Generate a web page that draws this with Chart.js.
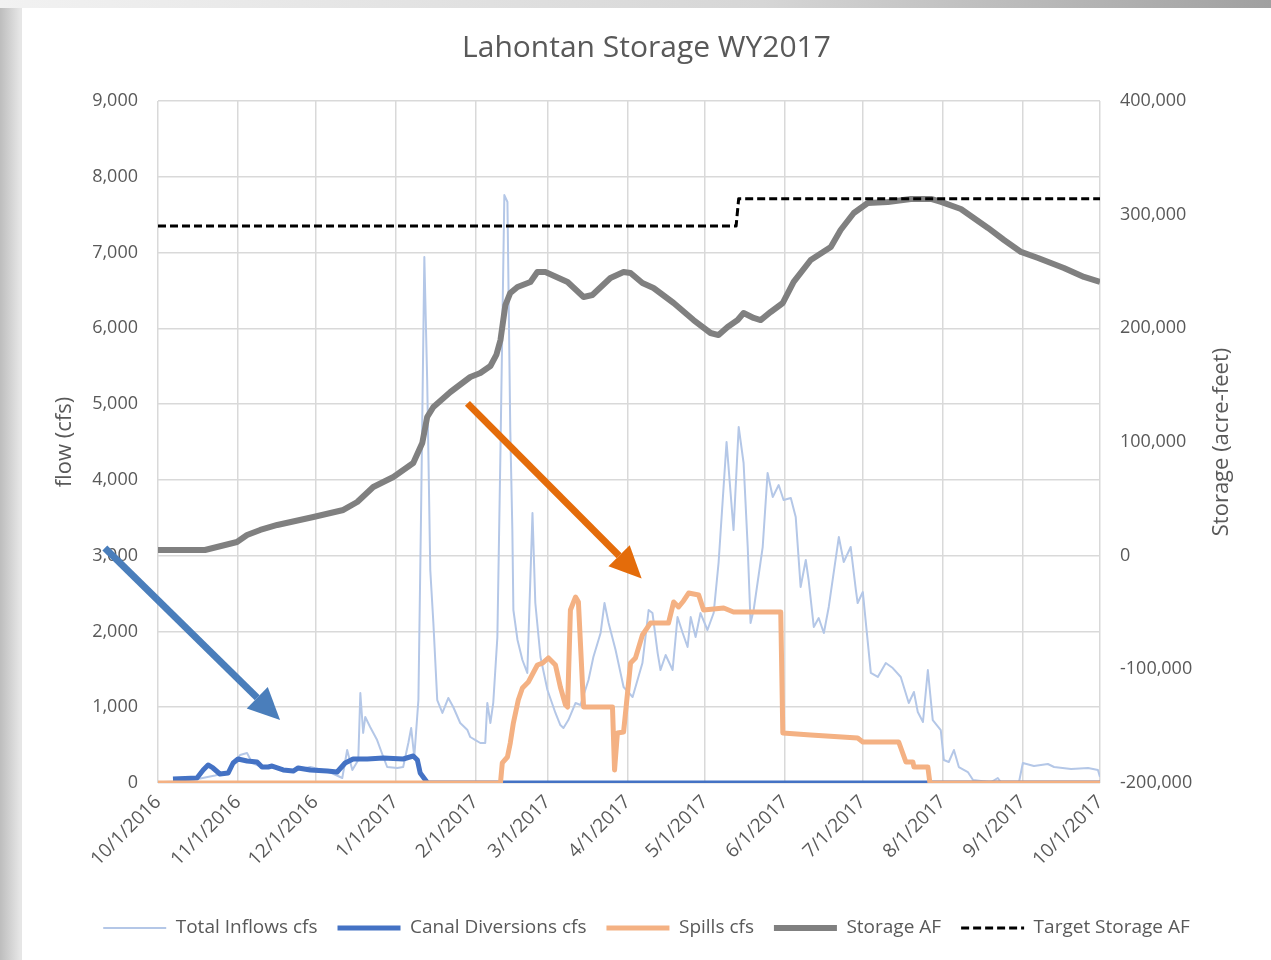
<!DOCTYPE html>
<html>
<head>
<meta charset="utf-8">
<title>Lahontan Storage WY2017</title>
<script src="https://cdn.jsdelivr.net/npm/chart.js@4.4.1/dist/chart.umd.min.js"></script>
<style>
  html, body { margin: 0; padding: 0; }
  body { width: 1271px; height: 960px; overflow: hidden; position: relative;
         background: linear-gradient(to right, #bdbdbd 0px, #e6e6e6 20px, #e6e6e6 100%); }
  #topShade { position: absolute; left: 0; top: 0; width: 1271px; height: 8px;
              background: linear-gradient(to right, #f2f2f2, #d6d6d6 60%, #a0a0a0); }
  #card { position: absolute; left: 22px; top: 8px; width: 1249px; height: 952px; background: #fff; }
</style>
</head>
<body>
<div id="topShade"></div>
<div id="card"><canvas id="lahontanChart" width="1249" height="952"></canvas></div>
<script>
// x values are days counted from 10/1/2016
var monthDays = [0, 31, 61, 92, 123, 151, 182, 212, 243, 273, 304, 335, 365];
var monthLabels = ['10/1/2016', '11/1/2016', '12/1/2016', '1/1/2017', '2/1/2017', '3/1/2017',
    '4/1/2017', '5/1/2017', '6/1/2017', '7/1/2017', '8/1/2017', '9/1/2017', '10/1/2017'];

var inflowDay = [0, 6.6, 16.3, 22.1, 27.2, 31.8, 34.5, 36.5, 40.3, 45.4, 52.4, 59.0, 65.6, 71.4, 73.3,
    75.3, 77.6, 78.4, 79.5, 80.3, 82.2, 84.9, 87.3, 88.8, 92.7, 95.0, 97.0, 98.1, 99.3, 100.9,
    102.0, 103.2, 104.3, 105.5, 106.7, 108.2, 110.2, 112.5, 114.4, 117.1, 119.9, 121.0, 123.0, 124.9, 126.8,
    127.6, 128.8, 129.9, 131.5, 132.7, 134.2, 135.4, 136.5, 137.3, 137.7, 139.3, 141.2, 143.1, 145.1, 146.2,
    148.2, 150.9, 154.0, 155.9, 157.1, 159.0, 161.8, 163.7, 166.8, 168.7, 171.5, 173.0, 174.6, 177.3, 180.4,
    183.9, 185.8, 187.7, 190.1, 191.6, 193.6, 194.7, 196.7, 199.4, 201.3, 203.3, 205.2, 206.4, 208.3, 210.2,
    212.9, 215.3, 217.2, 220.3, 223.0, 225.0, 226.9, 228.5, 229.6, 230.8, 234.3, 236.2, 238.2, 240.5, 242.4,
    245.2, 247.1, 249.0, 251.0, 252.1, 254.1, 256.0, 258.0, 259.9, 263.8, 265.7, 268.4, 270.4, 271.1, 273.1,
    276.2, 278.9, 282.0, 284.7, 287.8, 290.9, 292.9, 294.4, 296.4, 298.3, 300.2, 303.3, 304.5, 306.4, 308.4,
    310.3, 313.8, 315.8, 322.7, 325.4, 326.6, 333.6, 335.1, 339.4, 344.8, 347.2, 353.8, 360.4, 364.2, 365];
var inflowCfs = [10, 20, 60, 100, 145, 370, 396, 264, 211, 198, 158, 211, 158, 66, 435,
    172, 303, 1188, 660, 871, 739, 567, 343, 211, 198, 211, 528, 726, 343, 1095,
    3734, 6941, 5318, 2811, 2111, 1095, 924, 1122, 1003, 792, 699, 607, 567, 528, 528,
    1056, 792, 1056, 1927, 4394, 7759, 7667, 4658, 3339, 2283, 1887, 1623, 1452, 3563, 2375,
    1663, 1227, 924, 765, 726, 831, 1056, 1029, 1359, 1663, 1980, 2375, 2111, 1755, 1267,
    1135, 1359, 1583, 2283, 2243, 1715, 1491, 1689, 1491, 2190, 1980, 1795, 2190, 1927, 2243,
    2019, 2243, 2903, 4500, 3339, 4698, 4223, 3114, 2111, 2283, 3114, 4091, 3774, 3932, 3734,
    3761, 3510, 2586, 2943, 2679, 2059, 2177, 1980, 2323, 3246, 2916, 3114, 2547, 2375, 2520,
    1452, 1399, 1583, 1517, 1399, 1056, 1201, 937, 805, 1491, 831, 699, 303, 277, 435,
    211, 145, 40, 10, 66, 10, 10, 264, 224, 251, 211, 185, 198, 172, 79];

var canalDay = [5.8, 15.1, 17.5, 19.4, 21.3, 24.0, 27.2, 29.1, 31.0, 34.5, 38.4, 40.3, 42.7, 44.2, 48.5,
    52.4, 54.3, 59.0, 65.6, 69.4, 72.5, 75.6, 81.1, 87.3, 95.0, 98.9, 100.5, 101.6, 103.6, 104.5, 365];
var canalCfs = [53, 66, 172, 238, 198, 119, 132, 264, 317, 290, 277, 211, 211, 224, 172,
    158, 198, 172, 158, 145, 264, 317, 317, 330, 317, 356, 303, 132, 40, 0, 0];

var spillDay = [0, 132.7, 133.4, 135.4, 136.5, 137.7, 139.6, 141.2, 143.5, 147.0, 149.0, 151.3, 154.0, 155.9, 157.9,
    158.7, 159.8, 161.8, 162.9, 164.9, 176.1, 176.9, 178.0, 180.4, 183.1, 185.0, 187.7, 190.8, 197.8, 199.8,
    201.7, 203.6, 205.6, 209.5, 211.4, 219.2, 223.0, 241.3, 242.1, 252.9, 271.1, 273.1, 287.0, 289.8, 292.5,
    292.9, 298.3, 299.1, 365];
var spillCfs = [0, 0, 265, 343, 528, 792, 1095, 1253, 1333, 1557, 1583, 1650, 1557, 1267, 1029,
    1003, 2283, 2455, 2388, 1003, 1003, 172, 660, 673, 1583, 1650, 1953, 2111, 2111, 2388,
    2323, 2402, 2507, 2481, 2283, 2309, 2257, 2257, 660, 633, 594, 541, 541, 277, 277,
    211, 211, 0, 0];

var storageDay = [0, 18.2, 30.6, 34.5, 39.6, 46.2, 60.2, 71.8, 77.2, 83.4, 91.2, 98.9, 102.4, 104.3, 106.7,
    113.3, 121.0, 124.9, 128.8, 131.1, 132.7, 134.6, 136.5, 139.3, 144.3, 147.0, 150.1, 158.7, 164.9, 168.3,
    175.3, 180.4, 183.1, 187.7, 192.0, 199.8, 207.5, 214.1, 217.2, 220.7, 224.6, 226.9, 230.8, 233.5, 237.4,
    242.1, 246.3, 252.9, 260.7, 264.5, 269.6, 275.0, 282.8, 291.7, 299.5, 303.4, 311.1, 321.6, 327.8, 334.4,
    341.0, 351.0, 358.8, 365];
var storageAF = [5000, 5000, 12000, 18200, 22600, 27000, 34000, 40200, 47200, 60400, 69200, 81500, 99100, 122000, 130800,
    144000, 157200, 160700, 166900, 176600, 189800, 220500, 231100, 236400, 240800, 249600, 249600, 240800, 227600, 229300,
    244300, 249600, 248700, 239900, 235500, 222300, 207300, 195900, 194100, 201200, 207300, 213500, 209100, 207300, 214400,
    222300, 240800, 260100, 271600, 286500, 301500, 310300, 311200, 313800, 313800, 311200, 305000, 288300, 277700, 267200,
    261900, 253100, 245200, 240800];

var targetDay = [0, 224, 225, 365];
var targetAF = [290000, 290000, 314000, 314000];

// annotation arrows, ends given as [day, cfs]
var arrowNotes = [
    { from: [-20.6, 3100], to: [47.3, 830], color: '#4a7ebb' },
    { from: [119.9, 5010], to: [187.4, 2700], color: '#e46c0a' }
];

function points(days, vals) {
    return days.map(function(d, i) { return { x: d, y: vals[i] }; });
}

var textColor = '#595959';
var gridColor = '#d9d9d9';
Chart.defaults.font.family = '"Open Sans", sans-serif';
Chart.defaults.color = textColor;

var annotate = {
    id: 'annotate',
    afterDatasetsDraw: function(chart) {
        var ctx = chart.ctx, xs = chart.scales.x, ys = chart.scales.y;
        arrowNotes.forEach(function(a) {
            var x1 = xs.getPixelForValue(a.from[0]), y1 = ys.getPixelForValue(a.from[1]);
            var x2 = xs.getPixelForValue(a.to[0]), y2 = ys.getPixelForValue(a.to[1]);
            var ang = Math.atan2(y2 - y1, x2 - x1), head = 32, half = 15;
            var bx = x2 - head * Math.cos(ang), by = y2 - head * Math.sin(ang);
            ctx.save();
            ctx.strokeStyle = a.color;
            ctx.fillStyle = a.color;
            ctx.lineWidth = 7;
            ctx.beginPath(); ctx.moveTo(x1, y1); ctx.lineTo(bx, by); ctx.stroke();
            ctx.beginPath();
            ctx.moveTo(x2, y2);
            ctx.lineTo(bx + half * Math.sin(ang), by - half * Math.cos(ang));
            ctx.lineTo(bx - half * Math.sin(ang), by + half * Math.cos(ang));
            ctx.closePath();
            ctx.fill();
            ctx.restore();
        });
    },
    afterDraw: function(chart) {
        // secondary axis title reads bottom-to-top like the primary one
        var s = chart.scales.y2, ctx = chart.ctx;
        ctx.save();
        ctx.translate(s.right - 49, (s.top + s.bottom) / 2);
        ctx.rotate(-Math.PI / 2);
        ctx.font = '22px "Open Sans", sans-serif';
        ctx.fillStyle = textColor;
        ctx.textAlign = 'center';
        ctx.textBaseline = 'middle';
        ctx.fillText('Storage (acre-feet)', 0, 0);
        ctx.restore();
    }
};

new Chart(document.getElementById('lahontanChart'), {
    type: 'line',
    data: {
        datasets: [{
            label: 'Total Inflows cfs',
            data: points(inflowDay, inflowCfs),
            borderColor: '#b4c7e7',
            borderWidth: 2,
            yAxisID: 'y',
            order: 5
        }, {
            label: 'Canal Diversions cfs',
            data: points(canalDay, canalCfs),
            borderColor: '#4472c4',
            backgroundColor: '#4472c4',
            borderWidth: 5,
            yAxisID: 'y',
            order: 4
        }, {
            label: 'Spills cfs',
            data: points(spillDay, spillCfs),
            borderColor: '#f4b183',
            backgroundColor: '#f4b183',
            borderWidth: 5,
            yAxisID: 'y',
            order: 3
        }, {
            label: 'Storage AF',
            data: points(storageDay, storageAF),
            borderColor: '#808080',
            backgroundColor: '#808080',
            borderWidth: 6,
            yAxisID: 'y2',
            order: 2
        }, {
            label: 'Target Storage AF',
            data: points(targetDay, targetAF),
            borderColor: '#000000',
            backgroundColor: '#000000',
            borderWidth: 3,
            borderDash: [8, 4],
            yAxisID: 'y2',
            order: 1
        }]
    },
    options: {
        responsive: false,
        animation: false,
        elements: {
            point: { radius: 0 },
            line: { tension: 0, fill: false, borderJoinStyle: 'round' }
        },
        layout: { padding: { left: 0, right: 0, top: 0, bottom: 12.5 } },
        plugins: {
            title: {
                display: true,
                text: 'Lahontan Storage WY2017',
                color: textColor,
                font: { size: 30, weight: 'normal' },
                padding: { top: 22, bottom: 35 }
            },
            legend: {
                position: 'bottom',
                labels: {
                    usePointStyle: true,
                    pointStyle: 'line',
                    pointStyleWidth: 63,
                    padding: 20,
                    color: textColor,
                    font: { size: 19 },
                    sort: function(a, b) { return a.datasetIndex - b.datasetIndex; },
                    generateLabels: function(chart) {
                        var items = Chart.defaults.plugins.legend.labels.generateLabels(chart);
                        items.forEach(function(it) {
                            var ds = chart.data.datasets[it.datasetIndex];
                            it.lineDash = ds.borderDash || [];
                            it.lineWidth = ds.borderWidth;
                            it.strokeStyle = ds.borderColor;
                        });
                        return items;
                    }
                }
            },
            tooltip: { enabled: false }
        },
        scales: {
            x: {
                type: 'linear',
                min: 0,
                max: 365,
                afterBuildTicks: function(scale) {
                    scale.ticks = monthDays.map(function(d) { return { value: d }; });
                },
                afterFit: function(scale) { scale.height = 115.5; },
                ticks: {
                    autoSkip: false,
                    minRotation: 45,
                    maxRotation: 45,
                    padding: 8,
                    font: { size: 19 },
                    callback: function(v, i) { return monthLabels[i]; }
                },
                grid: { color: gridColor, lineWidth: 1.5, drawTicks: false },
                border: { display: false }
            },
            y: {
                position: 'left',
                min: 0,
                max: 9000,
                afterFit: function(scale) { scale.width = 136; },
                ticks: {
                    stepSize: 1000,
                    padding: 20,
                    font: { size: 18 },
                    callback: function(v) { return v.toLocaleString('en-US'); }
                },
                grid: { color: gridColor, lineWidth: 1.5, drawTicks: false },
                border: { display: false },
                title: {
                    display: true,
                    text: 'flow (cfs)',
                    color: textColor,
                    font: { size: 22 },
                    padding: { top: 30, bottom: 0 }
                }
            },
            y2: {
                position: 'right',
                min: -200000,
                max: 400000,
                afterFit: function(scale) { scale.width = 171; },
                ticks: {
                    stepSize: 100000,
                    padding: 20,
                    font: { size: 18 },
                    callback: function(v) { return v.toLocaleString('en-US'); }
                },
                grid: { drawOnChartArea: false, drawTicks: false },
                border: { display: false }
            }
        }
    },
    plugins: [annotate]
});
</script>
</body>
</html>
